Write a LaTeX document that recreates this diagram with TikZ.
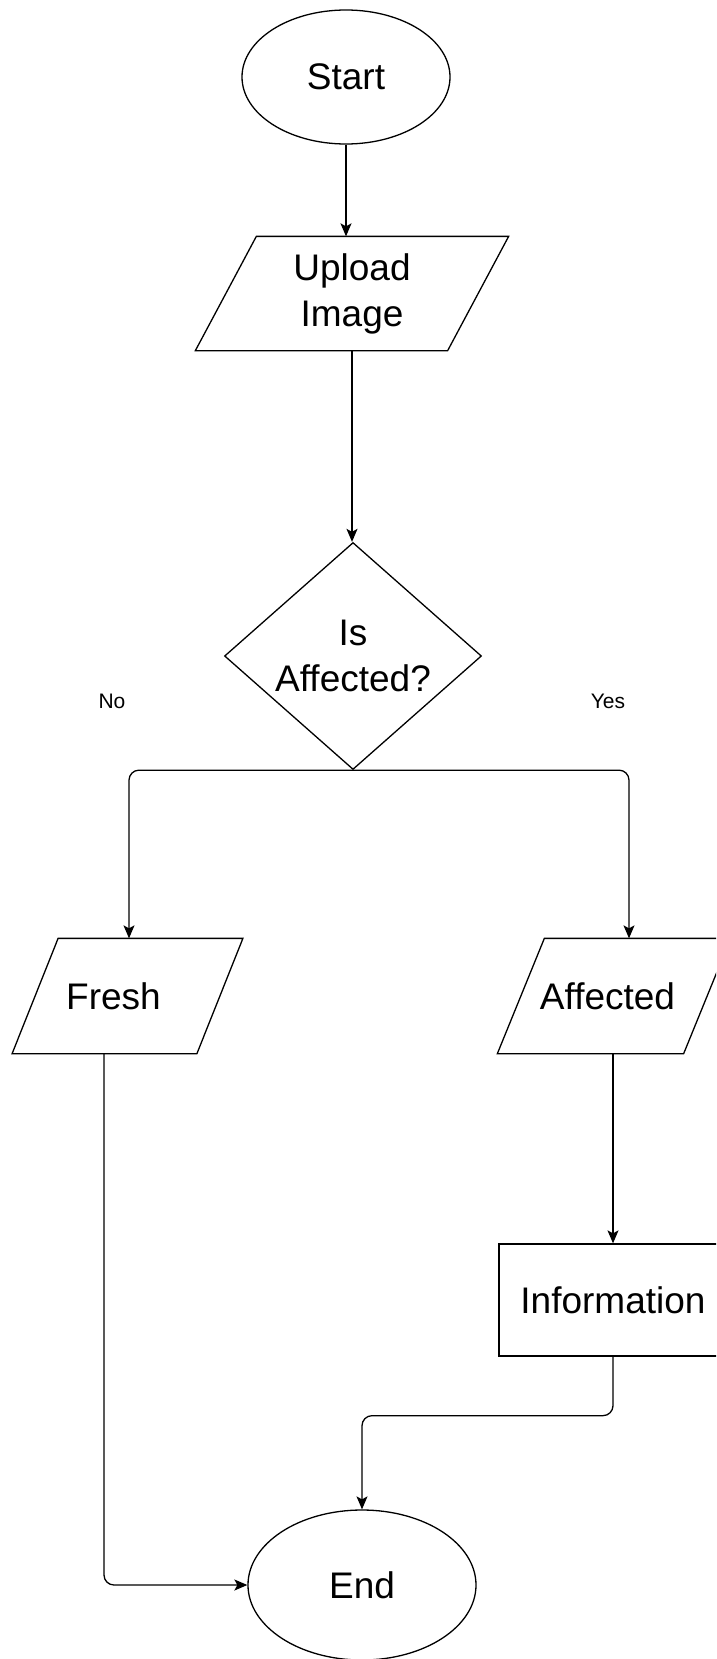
\documentclass[tikz,border=0pt]{standalone}
\usepackage{fontspec}
\setmainfont{Liberation Sans}
\usetikzlibrary{shapes.geometric,arrows.meta}
\begin{document}
\begin{tikzpicture}[x=1pt,y=-1pt,
  line width=1.3pt,
  every node/.style={font=\fontsize{37}{46}\selectfont, align=center},
  term/.style={ellipse, draw, inner sep=0pt},
  pbox/.style={rectangle, draw=none, inner sep=0pt},
  lbl/.style={font=\fontsize{21}{25}\selectfont},
  arr/.style={-{Stealth[length=13pt,width=11pt,inset=3pt]}},
  conn/.style={rounded corners=10pt}
]
\useasboundingbox (0,0) rectangle (716,1659);
\fill[white] (0,0) rectangle (716,1659);
\clip (0,0) rectangle (716,1659);

% nodes
\node[term, minimum width=208, minimum height=134] (start) at (346,77) {Start};
\node[pbox, minimum width=251, minimum height=113] (upload) at (352,293.5) {Upload\\Image};
\draw ([xshift=30.5]upload.north west) -- ([xshift=30.5]upload.north east)
  -- ([xshift=-30.5]upload.south east) -- ([xshift=-30.5]upload.south west) -- cycle;
\node[diamond, draw, aspect=1.13, inner sep=0pt, minimum width=257, minimum height=227] (dec) at (353,656) {Is\\Affected?};
\node[lbl] (no) at (112,701) {No};
\node[lbl] (yes) at (608,701) {Yes};
\node[pbox, minimum width=183.5, minimum height=114] (fresh) at (113.5,996) {Fresh};
\draw ([xshift=37]fresh.north west) -- ([xshift=37]fresh.north east)
  -- ([xshift=-9]fresh.south east) -- ([xshift=-9]fresh.south west) -- cycle;
\node[pbox, minimum width=185, minimum height=114] (aff) at (607.5,996) {Affected};
\draw ([xshift=30]aff.north west) -- ([xshift=30]aff.north east)
  -- ([xshift=-17]aff.south east) -- ([xshift=-17]aff.south west) -- cycle;
\node[rectangle, draw, inner sep=0pt, minimum width=228, minimum height=112] (info) at (613,1300) {Information};
\node[term, minimum width=228, minimum height=150] (end) at (362,1585) {End};

% connectors
\draw[arr] (start.south) -- (start.south |- upload.north);
\draw[arr] (upload.south) -- (upload.south |- dec.north);
\draw[arr, conn] (dec.south) -| ([xshift=15.5]fresh.north);
\draw[arr, conn] (dec.south) -| ([xshift=21.5]aff.north);
\draw[arr] ([xshift=5.5]aff.south) -- ([xshift=5.5]aff.south |- info.north);
\draw[arr, conn] ([xshift=-9.5]fresh.south) |- (end.west);
\draw[arr, conn] (info.south) -- ++(0,59) -| (end.north);
\end{tikzpicture}
\end{document}
